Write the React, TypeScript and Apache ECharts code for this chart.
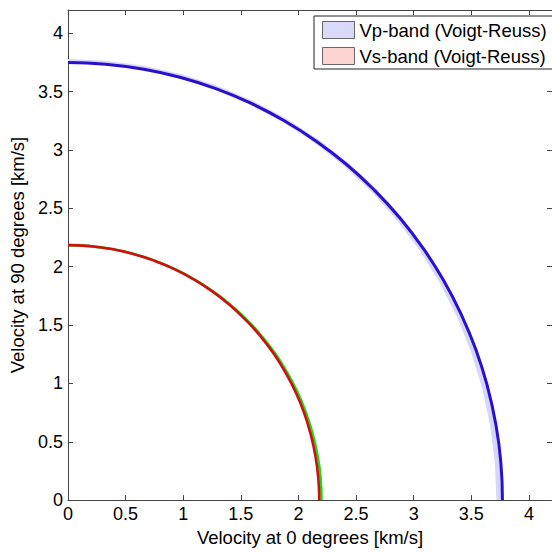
import React, { useEffect, useRef } from "react";
import * as echarts from "echarts";

// Propagation angle (degrees from the 0-degree direction)
const ANGLES = [0, 5, 10, 15, 20, 25, 30, 35, 40, 45, 50, 55, 60, 65, 70, 75, 80, 85, 90];

// P-wave velocity [km/s] and its Voigt / Reuss bounds
const VP = [3.770, 3.770, 3.769, 3.768, 3.767, 3.765, 3.764, 3.762, 3.760, 3.758, 3.757, 3.755, 3.754, 3.753, 3.752, 3.751, 3.750, 3.750, 3.750];
const VP_VOIGT = [3.776, 3.776, 3.776, 3.776, 3.776, 3.777, 3.777, 3.777, 3.778, 3.778, 3.778, 3.779, 3.779, 3.779, 3.780, 3.780, 3.780, 3.780, 3.780];
const VP_REUSS = [3.718, 3.718, 3.719, 3.720, 3.721, 3.723, 3.725, 3.727, 3.729, 3.731, 3.733, 3.735, 3.737, 3.739, 3.741, 3.742, 3.743, 3.744, 3.744];

// S-wave velocities [km/s] and the Voigt / Reuss band
const VS1 = [2.180, 2.180, 2.180, 2.180, 2.181, 2.181, 2.181, 2.182, 2.182, 2.182, 2.183, 2.183, 2.183, 2.184, 2.184, 2.184, 2.185, 2.185, 2.185];
const VS2 = [2.200, 2.200, 2.199, 2.198, 2.197, 2.196, 2.194, 2.193, 2.191, 2.190, 2.189, 2.188, 2.187, 2.186, 2.186, 2.185, 2.185, 2.185, 2.185];
const VS_VOIGT = [2.196, 2.196, 2.195, 2.194, 2.193, 2.192, 2.191, 2.190, 2.189, 2.189, 2.188, 2.188, 2.187, 2.187, 2.187, 2.187, 2.187, 2.187, 2.187];
const VS_REUSS = [2.176, 2.176, 2.176, 2.176, 2.177, 2.177, 2.177, 2.178, 2.178, 2.178, 2.179, 2.179, 2.179, 2.180, 2.180, 2.180, 2.181, 2.181, 2.181];

const AXIS_MIN = 0;
const AXIS_MAX = 4.2;
const TICK_STEP = 0.5;

const VP_BAND_NAME = "Vp-band (Voigt-Reuss)";
const VS_BAND_NAME = "Vs-band (Voigt-Reuss)";

const FONT = "'Liberation Sans', Arial, sans-serif";

const toXY = (v: number, deg: number): [number, number] => {
  const t = (deg * Math.PI) / 180;
  return [v * Math.cos(t), v * Math.sin(t)];
};

const curve = (vel: number[]) => vel.map((v, i) => toXY(v, ANGLES[i]));

const bandSeries = (name: string, upper: number[], lower: number[], fill: string) => ({
  type: "custom",
  name,
  data: [[0, 0]],
  clip: true,
  silent: true,
  z: 1,
  itemStyle: { color: fill },
  renderItem: (_params: any, api: any) => {
    const pts: number[][] = [];
    upper.forEach((v, i) => pts.push(api.coord(toXY(v, ANGLES[i]))));
    for (let i = lower.length - 1; i >= 0; i--) {
      pts.push(api.coord(toXY(lower[i], ANGLES[i])));
    }
    return {
      type: "polygon",
      shape: { points: pts },
      style: { fill, stroke: "none" },
    };
  },
});

const lineSeries = (vel: number[], color: string, width: number, z: number) => ({
  type: "line",
  data: curve(vel),
  showSymbol: false,
  smooth: true,
  silent: true,
  z,
  lineStyle: { color, width },
});

const axisCommon = {
  type: "value",
  min: AXIS_MIN,
  max: AXIS_MAX,
  interval: TICK_STEP,
  splitLine: { show: false },
  axisLine: { show: true, onZero: false, lineStyle: { color: "#444", width: 1 } },
  axisTick: { show: true, inside: true, length: 5, lineStyle: { color: "#444" } },
};

const labelStyle = {
  show: true,
  color: "#000",
  fontSize: 18,
  fontFamily: FONT,
  margin: 5,
  showMaxLabel: false,
};

const nameStyle = { color: "#000", fontSize: 18.5, fontFamily: FONT };

export default function App() {
  const ref = useRef<HTMLDivElement>(null);

  useEffect(() => {
    if (!ref.current) return;
    const chart = echarts.init(ref.current, undefined, { renderer: "svg" });
    const side = (AXIS_MAX - AXIS_MIN) * 117;
    chart.setOption({
      animation: false,
      backgroundColor: "#fff",
      grid: { left: 68, top: 10, width: side, height: side, containLabel: false },
      legend: {
        orient: "vertical",
        left: 314,
        top: 16,
        padding: [4, 40, 3, 8],
        itemGap: 6,
        itemWidth: 32,
        itemHeight: 17,
        selectedMode: false,
        backgroundColor: "#fff",
        borderColor: "#222",
        borderWidth: 1,
        borderRadius: 0,
        textStyle: { color: "#000", fontSize: 18.5, fontFamily: FONT, lineHeight: 20 },
        data: [
          { name: VP_BAND_NAME, icon: "rect", itemStyle: { color: "#d9d9fb", borderColor: "#666", borderWidth: 1 } },
          { name: VS_BAND_NAME, icon: "rect", itemStyle: { color: "#fdd6d4", borderColor: "#666", borderWidth: 1 } },
        ],
      },
      xAxis: [
        {
          ...axisCommon,
          position: "bottom",
          axisLabel: labelStyle,
          name: "Velocity at 0 degrees [km/s]",
          nameLocation: "middle",
          nameGap: 24,
          nameTextStyle: nameStyle,
        },
        { ...axisCommon, position: "top", axisLabel: { show: false } },
      ],
      yAxis: [
        {
          ...axisCommon,
          position: "left",
          axisLabel: labelStyle,
          name: "Velocity at 90 degrees [km/s]",
          nameLocation: "middle",
          nameGap: 36,
          nameTextStyle: nameStyle,
        },
        { ...axisCommon, position: "right", axisLabel: { show: false } },
      ],
      series: [
        bandSeries(VP_BAND_NAME, VP_VOIGT, VP_REUSS, "#d6d6fa"),
        bandSeries(VS_BAND_NAME, VS_VOIGT, VS_REUSS, "#fbd3d0"),
        lineSeries(VP, "#2a10cc", 3, 3),
        lineSeries(VS2, "#22d622", 2.6, 3),
        lineSeries(VS1, "#d01010", 2.6, 4),
      ],
    });
    return () => chart.dispose();
  }, []);

  return (
    <div
      ref={ref}
      style={{ position: "fixed", left: 0, top: 0, width: 552, height: 552, background: "#fff" }}
    />
  );
}
